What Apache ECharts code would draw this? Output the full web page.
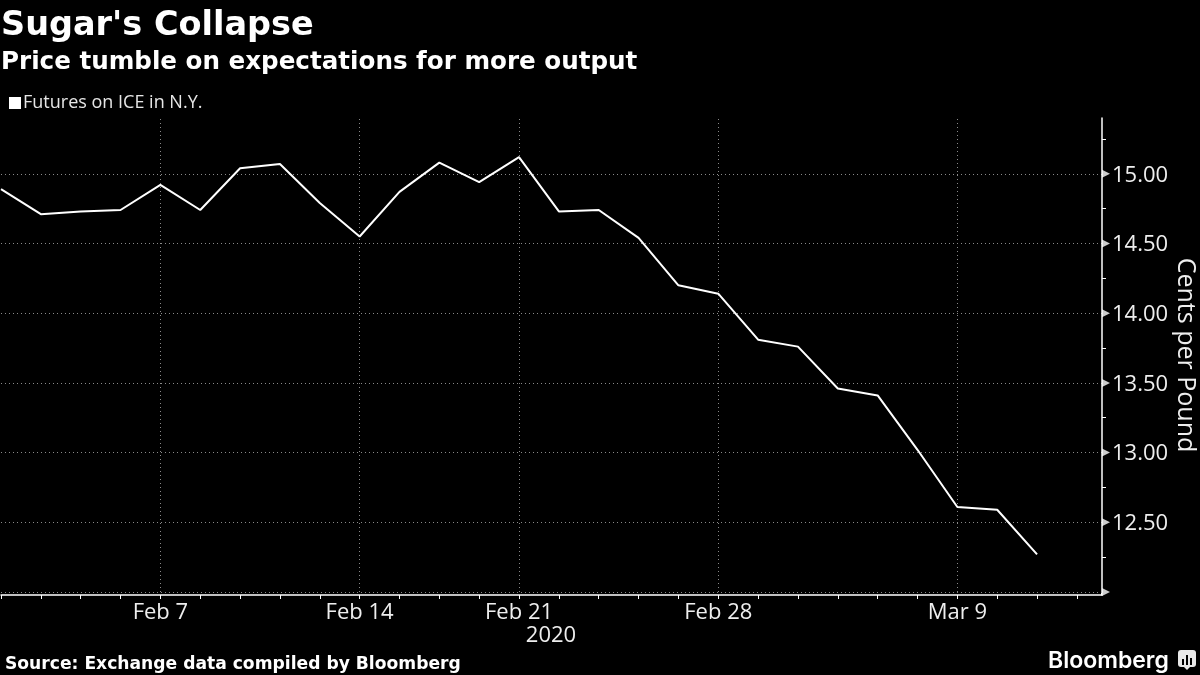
<!DOCTYPE html>
<html><head><meta charset="utf-8">
<script src="https://cdn.jsdelivr.net/npm/echarts@6/dist/echarts.min.js"></script>
<style>html,body{margin:0;background:#000}#c{width:1200px;height:675px}</style></head>
<body><div id="c"></div>
<script>
const dates = ['Feb 3','Feb 4','Feb 5','Feb 6','Feb 7','Feb 10','Feb 11','Feb 12','Feb 13','Feb 14','Feb 18','Feb 19','Feb 20','Feb 21','Feb 24','Feb 25','Feb 26','Feb 27','Feb 28','Mar 2','Mar 3','Mar 4','Mar 5','Mar 6','Mar 9','Mar 10','Mar 11','Mar 12'];
const values = [14.89,14.71,14.73,14.74,14.92,14.74,15.04,15.07,14.79,14.55,14.87,15.08,14.94,15.12,14.73,14.74,14.54,14.20,14.14,13.81,13.76,13.46,13.41,13.02,12.61,12.59,12.27];
const labelledDates = ['Feb 7','Feb 14','Feb 21','Feb 28','Mar 9'];
const majorTicks = [12,12.5,13,13.5,14,14.5,15];
const seriesName = 'Futures on ICE in N.Y.';
const titleText = "Sugar's Collapse";
const subtitleText = 'Price tumble on expectations for more output';
const sourceText = 'Source: Exchange data compiled by Bloomberg';
const yearText = '2020';
const yName = 'Cents per Pound';
const xMax = 27.63, yMin = 12, yMax = 15.4;
const labelFont = '"Open Sans","DejaVu Sans",sans-serif';
const boldFont = '"DejaVu Sans",sans-serif';
const chart = echarts.init(document.getElementById('c'), null, {renderer:'canvas'});
const dots = {color:'#8a8a8a', width:1, type:[1,3]};
chart.setOption({
  backgroundColor:'#000', animation:false,
  title:[
    {text:titleText,left:1,top:9,padding:0,textStyle:{color:'#fff',fontFamily:boldFont,fontWeight:'bold',fontSize:33.5}},
    {text:subtitleText,left:1,top:50,padding:0,textStyle:{color:'#fff',fontFamily:boldFont,fontWeight:'bold',fontSize:24.6}},
    {text:sourceText,left:5,top:656,padding:0,textStyle:{color:'#fff',fontFamily:boldFont,fontWeight:'bold',fontSize:17.15}},
    {text:yearText,left:551,top:625,padding:0,textAlign:'center',textStyle:{color:'#eee',fontFamily:labelFont,fontWeight:'normal',fontSize:22}},
    {text:'Bloomberg',left:1048,top:650,padding:0,textStyle:{color:'#fff',fontFamily:'Inter,"Noto Sans",sans-serif',fontWeight:600,fontSize:23}}
  ],
  legend:{data:[{name:seriesName,icon:'rect'}],left:9,top:94,itemWidth:12,itemHeight:12,itemGap:4,padding:0,
    textStyle:{color:'#e6e6e6',fontFamily:labelFont,fontSize:18,padding:[0,0,0,-3]}},
  grid:{left:1,right:98,top:118,bottom:83,outerBoundsMode:'none'},
  xAxis:{type:'value',min:0,max:xMax,interval:1,offset:3,
    axisLine:{show:true,onZero:false,lineStyle:{color:'#fff',width:1.5}},
    axisTick:{show:true,length:4,lineStyle:{color:'#fff',width:1}},
    splitLine:{show:false},minorTick:{show:false},
    axisLabel:{color:'#eee',fontFamily:labelFont,fontSize:22,margin:7,showMinLabel:true,showMaxLabel:false,hideOverlap:false,
      formatter:v=>labelledDates.includes(dates[v])?dates[v]:''}},
  yAxis:{type:'value',position:'right',min:yMin,max:yMax,interval:0.5,
    name:yName,nameLocation:'middle',nameRotate:-90,nameGap:71,nameMoveOverlap:false,
    nameTextStyle:{color:'#eee',fontFamily:labelFont,fontSize:25},
    axisLine:{show:true,onZero:false,lineStyle:{color:'#fff',width:1.5}},
    axisTick:{show:false},
    minorTick:{show:true,splitNumber:2,length:4,lineStyle:{color:'#fff',width:1}},
    splitLine:{show:true,showMinLine:true,showMaxLine:false,lineStyle:dots},
    axisLabel:{color:'#eee',fontFamily:labelFont,fontSize:22,margin:10,showMinLabel:false,showMaxLabel:false,
      rich:{v:{color:'#eee',fontFamily:labelFont,fontSize:22,padding:[3,0,0,0]}},
      formatter:v=>(v>=12.5&&v<=15)?'{v|'+v.toFixed(2)+'}':''}},
  series:[
    {name:seriesName,type:'line',data:values.map((v,i)=>[i,v]),showSymbol:false,symbol:'none',
      lineStyle:{color:'#fff',width:2},itemStyle:{color:'#fff'},z:5,
      markLine:{silent:true,symbol:'none',label:{show:false},lineStyle:dots,animation:false,
        data:labelledDates.map(d=>({xAxis:dates.indexOf(d)}))}},
    {type:'scatter',silent:true,clip:false,data:majorTicks.map(v=>[xMax,v]),symbol:'triangle',symbolSize:[8,8],symbolRotate:-90,symbolOffset:[4,0],itemStyle:{color:'#fff'},z:6}
  ],
  graphic:[
   {type:'rect',left:1101,top:592,shape:{width:1.5,height:3.5},style:{fill:'#fff'}},
   {type:'group',left:1178,top:650,children:[
    {type:'rect',shape:{x:0,y:0,width:18,height:17,r:3},style:{fill:'#e8e8e8'}},
    {type:'polygon',shape:{points:[[6,17],[12,17],[9,20]]},style:{fill:'#e8e8e8'}},
    {type:'rect',shape:{x:4,y:9,width:2,height:6},style:{fill:'#000'}},
    {type:'rect',shape:{x:8,y:5,width:2,height:10},style:{fill:'#000'}},
    {type:'rect',shape:{x:12,y:8,width:2,height:7},style:{fill:'#000'}}
  ]}]
});
</script></body></html>
